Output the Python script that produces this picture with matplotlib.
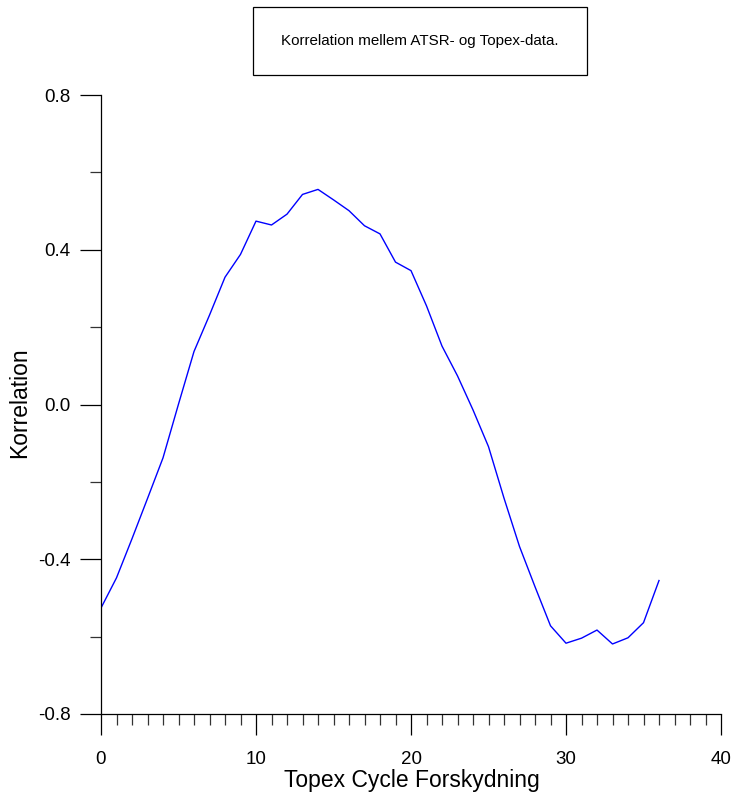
import matplotlib
matplotlib.use("Agg")
import matplotlib.pyplot as plt
from matplotlib.patches import Rectangle
from matplotlib.ticker import MultipleLocator, FixedLocator, FixedFormatter

plt.rcParams['font.family'] = ['Liberation Sans', 'DejaVu Sans']
plt.rcParams['axes.unicode_minus'] = False

# Data
shift = list(range(0, 37))
correlation = [-0.526, -0.448, -0.347, -0.243, -0.138, 0.001, 0.137, 0.231, 0.329,
               0.388, 0.474, 0.464, 0.492, 0.543, 0.556, 0.529, 0.501, 0.462,
               0.441, 0.368, 0.346, 0.255, 0.151, 0.074, -0.014, -0.109, -0.242,
               -0.367, -0.471, -0.572, -0.617, -0.604, -0.583, -0.619, -0.603,
               -0.564, -0.455]
x_ticks = [0, 10, 20, 30, 40]
y_ticks = [-0.8, -0.4, 0.0, 0.4, 0.8]
y_tick_labels = ["-0.8", "-0.4", "0.0", "0.4", "0.8"]
title = "Korrelation mellem ATSR- og Topex-data."
xlabel = "Topex Cycle Forskydning"
ylabel = "Korrelation"

W, H = 736, 797
fig = plt.figure(figsize=(W / 100, H / 100), dpi=100)
ax = fig.add_axes([101 / W, 1 - 714 / H, 620 / W, 619 / H])

ax.plot(shift, correlation, color='#0000ff', lw=1.0)

ax.set_xlim(0, 40)
ax.set_ylim(-0.8, 0.8)
ax.xaxis.set_major_locator(FixedLocator(x_ticks))
ax.xaxis.set_minor_locator(MultipleLocator(1))
ax.yaxis.set_major_locator(FixedLocator(y_ticks))
ax.yaxis.set_major_formatter(FixedFormatter(y_tick_labels))
ax.yaxis.set_minor_locator(MultipleLocator(0.2))

for s in ['top', 'right']:
    ax.spines[s].set_visible(False)
for s in ['left', 'bottom']:
    ax.spines[s].set_linewidth(0.9)
    ax.spines[s].set_color('black')

ax.tick_params(which='major', direction='out', length=15.1, width=0.9, color='black',
               labelsize=13.5, pad=7)
ax.tick_params(which='minor', direction='out', length=7.9, width=0.9, color='#333333')
ax.tick_params(axis='x', which='major', pad=11.5)

fig.text(20 / W, 1 - 403 / H, ylabel, rotation=90, ha='center', va='center', fontsize=16.5)
fig.text(412 / W, 1 - 780 / H, xlabel, ha='center', va='center', fontsize=16.5)

rect = Rectangle((253 / W, 1 - 75 / H), 334 / W, 68 / H, transform=fig.transFigure,
                 fill=False, edgecolor='black', lw=0.9)
fig.patches.append(rect)
fig.text(420 / W, 1 - 41 / H, title, ha='center', va='center', fontsize=10.9)

fig.savefig('out.png', dpi=100)
